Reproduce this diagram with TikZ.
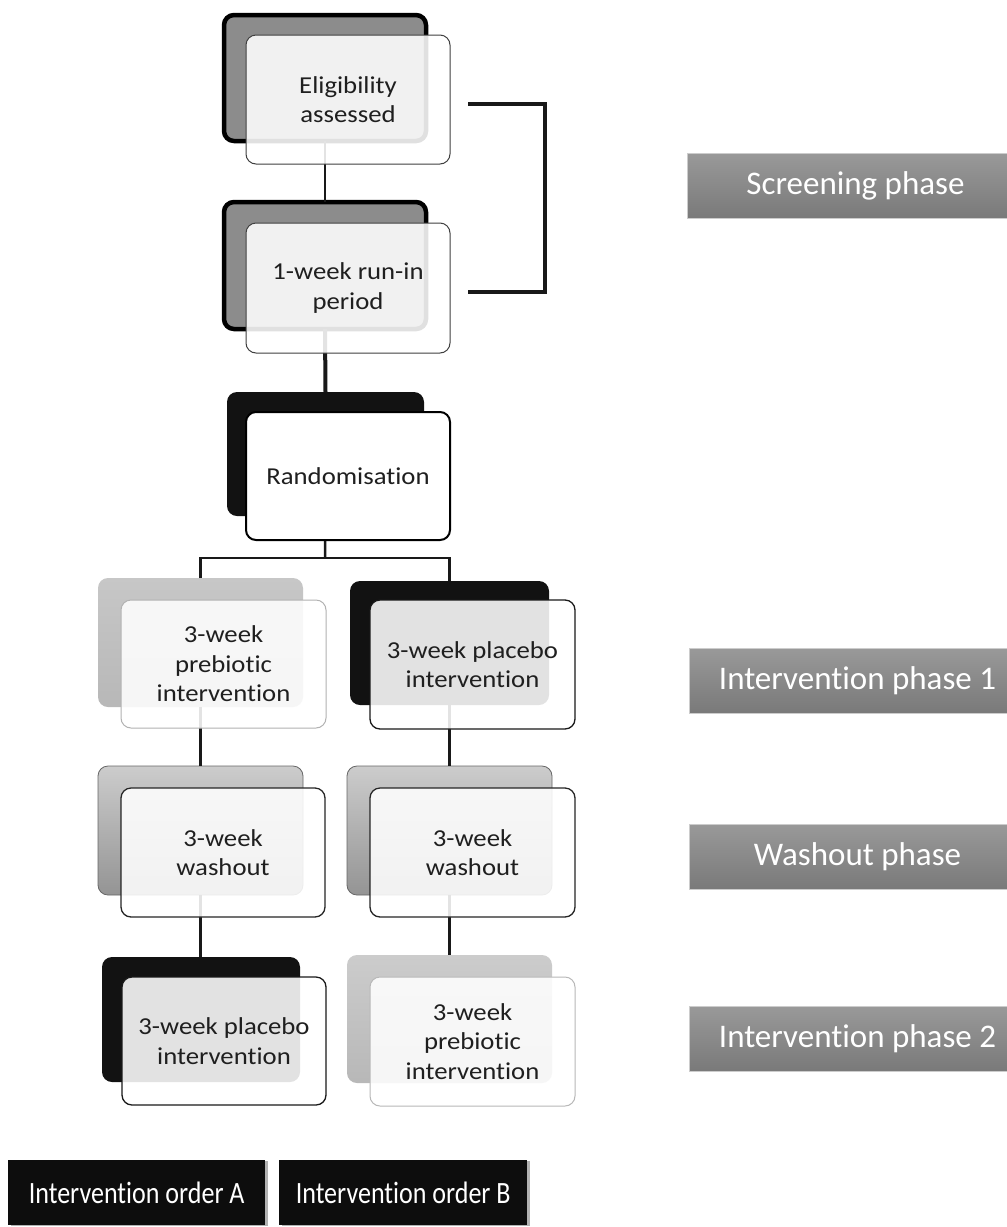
\documentclass[tikz,border=0pt]{standalone}
\usepackage{fontspec}
\usetikzlibrary{shadows}
\setmainfont{Carlito}[Ligatures={NoCommon}]
\newfontfamily\mainfam{Carlito}[FakeStretch=1.1,Ligatures={NoCommon}]
\newfontfamily\ordfam{Carlito}[FakeStretch=0.84,Ligatures={NoCommon}]
\newcommand\bxfont{\mainfam\fontsize{24.3}{29.5}\selectfont}
\newcommand\phfont{\fontsize{33}{36}\selectfont}
\newcommand\ordfont{\ordfam\fontsize{31}{34}\selectfont}
\begin{document}
\begin{tikzpicture}[x=1pt,y=-1pt,
  backbox/.style={rectangle,rounded corners=10pt,anchor=north west,inner sep=0pt,outer sep=0pt},
  frontbox/.style={rectangle,rounded corners=10pt,anchor=north west,inner sep=0pt,outer sep=0pt,
     fill=white,fill opacity=0.88,text opacity=1,align=center,font=\bxfont,text=black!88},
  conn/.style={line width=2.5pt,black!90},
  phasebox/.style={rectangle,anchor=west,inner sep=0pt,minimum width=336pt,minimum height=65pt,
     top color=gray!80!white,bottom color=gray!95!black,draw=gray!40,line width=1pt,
     font=\phfont,text=white},
  orderbox/.style={rectangle,anchor=north west,inner sep=0pt,minimum height=65pt,fill=black!95,
     font=\ordfont,text=white,
     drop shadow={shadow xshift=2.5pt,shadow yshift=-1pt,opacity=0.3,fill=black}}
]
\useasboundingbox (0,0) rectangle (1007,1227);
\fill[white] (0,0) rectangle (1007,1227);

% back boxes
\node[backbox,minimum width=202pt,minimum height=126pt,fill=gray!80!black!75,draw=black,line width=4.5pt] (eligB) at (224,15) {};
\node[backbox,minimum width=202pt,minimum height=127pt,fill=gray!80!black!75,draw=black,line width=4.5pt] (runB) at (224,202) {};
\node[backbox,minimum width=197pt,minimum height=124pt,fill=black!93] (randB) at (227,392) {};
\node[backbox,minimum width=205pt,minimum height=129pt,top color=black!22,bottom color=black!28] (p1lB) at (98,578) {};
\node[backbox,minimum width=199pt,minimum height=124pt,fill=black!93] (p1rB) at (350,581) {};
\node[backbox,minimum width=205pt,minimum height=129pt,top color=black!20,bottom color=black!42,draw=black!60,line width=0.8pt] (wlB) at (98,766) {};
\node[backbox,minimum width=205pt,minimum height=129pt,top color=black!20,bottom color=black!42,draw=black!60,line width=0.8pt] (wrB) at (347,766) {};
\node[backbox,minimum width=198pt,minimum height=125pt,fill=black!93] (p2lB) at (102,957) {};
\node[backbox,minimum width=205pt,minimum height=128pt,top color=black!20,bottom color=black!28] (p2rB) at (347,955) {};

% connectors
\draw[conn] (eligB.south) -- (runB.north);
\draw[conn,line width=4pt] (runB.south) -- (randB.north);
\coordinate (split) at (325,558);
\draw[conn] (randB.south) -- (split);
\draw[conn] (p1lB.north) |- (split) -| (p1rB.north);
\draw[conn] (p1lB.south) -- (wlB.north);
\draw[conn] (p1rB.south) -- (wrB.north);
\draw[conn] (wlB.south) -- (wlB.south |- p2lB.north);
\draw[conn] (wrB.south) -- (wrB.south |- p2rB.north);

% bracket
\coordinate (bTop) at (468,104);
\coordinate (bBot) at (468,292);
\draw[line width=4.5pt,black!90] (bTop) -- ([xshift=77pt]bTop) -- ([xshift=77pt]bBot) -- (bBot);

% front boxes
\node[frontbox,minimum width=204pt,minimum height=129pt,draw=black!75,line width=1pt] (elig) at (246,35) {Eligibility\\assessed};
\node[frontbox,minimum width=204pt,minimum height=130pt,draw=black!75,line width=1pt] (run) at (246,223) {1-week run-in\\period};
\node[frontbox,minimum width=204pt,minimum height=128pt,draw=black,line width=2pt,fill opacity=1] (rand) at (246,412) {Randomisation};
\node[frontbox,minimum width=205pt,minimum height=128pt,draw=black!30,line width=1pt] (p1l) at (121,600) {3-week\\prebiotic\\intervention};
\node[frontbox,minimum width=205pt,minimum height=129pt,draw=black!90,line width=1.3pt] (p1r) at (370,600) {3-week placebo\\intervention};
\node[frontbox,minimum width=204pt,minimum height=129pt,draw=black!85,line width=1.3pt] (wl) at (121,788) {3-week\\washout};
\node[frontbox,minimum width=205pt,minimum height=129pt,draw=black!85,line width=1.3pt] (wr) at (370,788) {3-week\\washout};
\node[frontbox,minimum width=204pt,minimum height=128pt,draw=black!90,line width=1.3pt] (p2l) at (122,977) {3-week placebo\\intervention};
\node[frontbox,minimum width=205pt,minimum height=129pt,draw=black!28,line width=1pt] (p2r) at (370,977) {3-week\\prebiotic\\intervention};

% phase labels
\node[phasebox] (screen) at (687,186) {Screening phase};
\node[phasebox] (ip1) at (689,680.5) {Intervention phase 1};
\node[phasebox] (wash) at (689,857) {Washout phase};
\node[phasebox] (ip2) at (689,1039) {Intervention phase 2};

% order labels
\node[orderbox,minimum width=257pt] (ordA) at (8,1160) {Intervention order A};
\node[orderbox,minimum width=248pt] (ordB) at (279,1160) {Intervention order B};
\end{tikzpicture}
\end{document}
